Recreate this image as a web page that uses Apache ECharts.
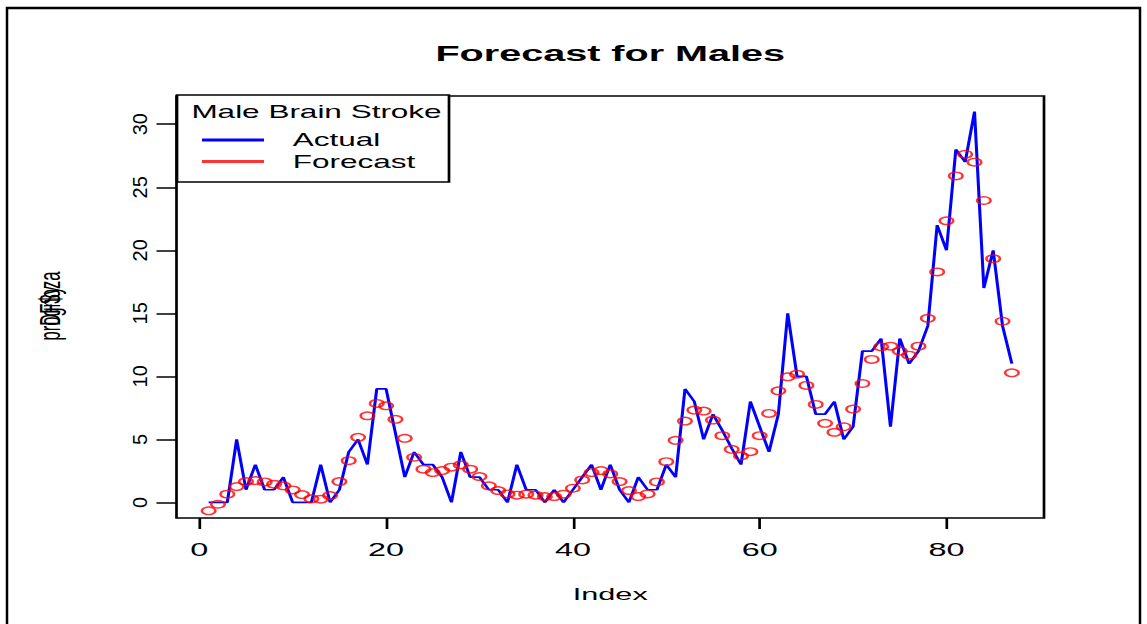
<!DOCTYPE html>
<html>
<head>
<meta charset="utf-8">
<script src="https://cdn.jsdelivr.net/npm/echarts@6/dist/echarts.min.js"></script>
<style>
  html, body { margin: 0; padding: 0; background: #fff; }
  #wrap { position: relative; width: 1147px; height: 624px; overflow: hidden; }
  /* the reference is an R plot stretched sideways, so the plot is drawn narrow and widened */
  #plot { position: absolute; left: 0; top: 0; height: 624px; transform: scaleX(1.8); transform-origin: 0 0; }
  #yside { position: absolute; left: 0; top: 0; width: 1147px; height: 624px; pointer-events: none; }
</style>
</head>
<body>
<div id="wrap">
  <div id="plot"></div>
  <div id="yside"></div>
</div>
<script>
var SX = 1.8;
var W = 1147, H = 624;

// Male brain stroke counts (Index 1..87)
var actual = [
  0, 0, 0, 5, 1, 3, 1, 1, 2, 0,
  0, 0, 3, 0, 1, 4, 5, 3, 9, 9,
  5.5, 2, 4, 3, 3, 2, 0, 4, 2, 2,
  1, 1, 0, 3, 1, 1, 0, 1, 0, 1,
  2, 3, 1, 3, 1, 0, 2, 1, 1, 3,
  2, 9, 8, 5, 7, 5.7, 4.3, 3, 8, 6,
  4, 7, 15, 10, 10, 7, 7, 8, 5, 6,
  12, 12, 13, 6, 13, 11, 12, 14, 22, 20,
  28, 27, 31, 17, 20, 14, 11
];
var forecast = [
  -0.67, -0.15, 0.65, 1.25, 1.65, 1.73, 1.62, 1.44, 1.31, 0.99,
  0.62, 0.28, 0.25, 0.54, 1.65, 3.31, 5.16, 6.87, 7.85, 7.66,
  6.59, 5.08, 3.58, 2.63, 2.36, 2.52, 2.79, 2.97, 2.63, 2.05,
  1.31, 0.94, 0.67, 0.57, 0.65, 0.57, 0.46, 0.46, 0.65, 1.12,
  1.78, 2.36, 2.52, 2.26, 1.65, 0.94, 0.46, 0.67, 1.62, 3.23,
  4.92, 6.45, 7.32, 7.24, 6.53, 5.29, 4.21, 3.68, 4.02, 5.29,
  7.06, 8.85, 9.96, 10.17, 9.28, 7.77, 6.27, 5.56, 6.0, 7.4,
  9.43, 11.34, 12.34, 12.39, 12.0, 11.68, 12.39, 14.6, 18.28, 22.34,
  25.9, 27.62, 26.99, 23.95, 19.33, 14.37, 10.28
];
var xTicks = [0, 20, 40, 60, 80];
var yTicks = [0, 5, 10, 15, 20, 25, 30];

// R style axis ranges (data range plus 4%)
var xMin = -2.44, xMax = 90.44;
var yMin = -1.24, yMax = 32.24;

// plot box in real pixels
var boxL = 176.5, boxR = 1044, boxT = 96, boxB = 518;

var font = 'Liberation Sans, Arial, sans-serif';

var plotW = W / SX;
var plotDom = document.getElementById('plot');
plotDom.style.width = plotW + 'px';

var chart = echarts.init(plotDom, null, { renderer: 'svg', width: plotW, height: H });
var chartY = echarts.init(document.getElementById('yside'), null, { renderer: 'svg', width: W, height: H });

var actualData = actual.map(function (v, i) { return [i + 1, v]; });
var forecastData = forecast.map(function (v, i) { return [i + 1, v]; });

chart.setOption({
  animation: false,
  backgroundColor: 'transparent',
  grid: {
    left: boxL / SX,
    right: plotW - boxR / SX,
    top: boxT,
    bottom: H - boxB,
    show: true,
    borderColor: '#000',
    borderWidth: 1.5,
    backgroundColor: 'transparent'
  },
  xAxis: {
    type: 'value',
    min: xMin,
    max: xMax,
    name: 'Index',
    nameLocation: 'middle',
    nameGap: 68,
    nameTextStyle: { fontFamily: font, fontSize: 17, color: '#000' },
    axisLine: { show: false, onZero: false },
    axisTick: {
      customValues: xTicks,
      length: 11,
      lineStyle: { color: '#000', width: 1.5 }
    },
    axisLabel: {
      customValues: xTicks,
      margin: 23,
      fontFamily: font,
      fontSize: 18,
      color: '#000'
    },
    splitLine: { show: false }
  },
  yAxis: {
    type: 'value',
    min: yMin,
    max: yMax,
    axisLine: { show: false, onZero: false },
    axisTick: {
      customValues: yTicks,
      inside: false,
      length: 20 / SX,
      lineStyle: { color: '#000', width: 1.5 }
    },
    axisLabel: { show: false },
    splitLine: { show: false }
  },
  legend: {
    orient: 'vertical',
    left: 202 / SX,
    top: 131,
    itemWidth: 62 / SX,
    itemHeight: 3,
    itemGap: 3.5,
    padding: 0,
    z: 10,
    textStyle: { fontFamily: font, fontSize: 17.5, color: '#000', padding: [0, 0, 0, 11] },
    data: [
      { name: 'Actual', icon: 'rect', itemStyle: { color: '#0000ff', borderWidth: 0 } },
      { name: 'Forecast', icon: 'rect', itemStyle: { color: '#ff0000', borderWidth: 0 } }
    ]
  },
  graphic: [
    {
      type: 'text',
      x: ((boxL + boxR) / 2) / SX,
      y: 53,
      style: {
        text: 'Forecast for Males',
        fontFamily: font,
        fontSize: 22,
        fontWeight: 'bold',
        fill: '#000',
        align: 'center',
        verticalAlign: 'middle'
      }
    },
    {
      type: 'rect',
      z: 5,
      shape: { x: 177 / SX, y: 95, width: (449 - 177) / SX, height: 87 },
      style: { fill: '#fff', stroke: '#000', lineWidth: 1.5 }
    },
    {
      type: 'text',
      z: 6,
      x: 316.5 / SX,
      y: 112,
      style: {
        text: 'Male Brain Stroke',
        fontFamily: font,
        fontSize: 17.5,
        fill: '#000',
        align: 'center',
        verticalAlign: 'middle'
      }
    },
    // y label: two titles printed on top of each other, as in the reference
    {
      type: 'text',
      x: 49 / SX,
      y: 306,
      rotation: Math.PI / 2,
      style: { text: 'prognoza', fontFamily: font, fontSize: 16.5, fill: '#000', align: 'center', verticalAlign: 'middle' }
    },
    {
      type: 'text',
      x: 49 / SX,
      y: 306,
      rotation: Math.PI / 2,
      style: { text: 'DF$y', fontFamily: font, fontSize: 16.5, fill: '#000', align: 'center', verticalAlign: 'middle' }
    }
  ],
  series: [
    {
      name: 'Actual',
      type: 'line',
      data: actualData,
      symbol: 'none',
      color: '#0000ff',
      lineStyle: { color: '#0000ff', width: 1.7 },
      z: 2
    },
    {
      name: 'Forecast',
      type: 'scatter',
      data: forecastData,
      symbol: 'circle',
      symbolSize: 7.5,
      itemStyle: { color: 'rgba(0,0,0,0)', borderColor: '#ff0000', borderWidth: 1.4 },
      z: 3
    }
  ]
});

// y tick labels are drawn without the stretch, as in the reference
chartY.setOption({
  animation: false,
  backgroundColor: 'transparent',
  grid: { left: boxL, right: W - boxR, top: boxT, bottom: H - boxB, show: false },
  xAxis: { type: 'value', min: xMin, max: xMax, show: false },
  yAxis: {
    type: 'value',
    min: yMin,
    max: yMax,
    axisLine: { show: false, onZero: false },
    axisTick: { show: false },
    axisLabel: {
      customValues: yTicks,
      rotate: 90,
      margin: 27,
      fontFamily: font,
      fontSize: 20,
      color: '#000'
    },
    splitLine: { show: false }
  },
  graphic: [
    {
      type: 'rect',
      shape: { x: 7, y: 8, width: 1133, height: 700 },
      style: { fill: 'none', stroke: '#000', lineWidth: 2.5 }
    }
  ],
  series: []
});
</script>
</body>
</html>
